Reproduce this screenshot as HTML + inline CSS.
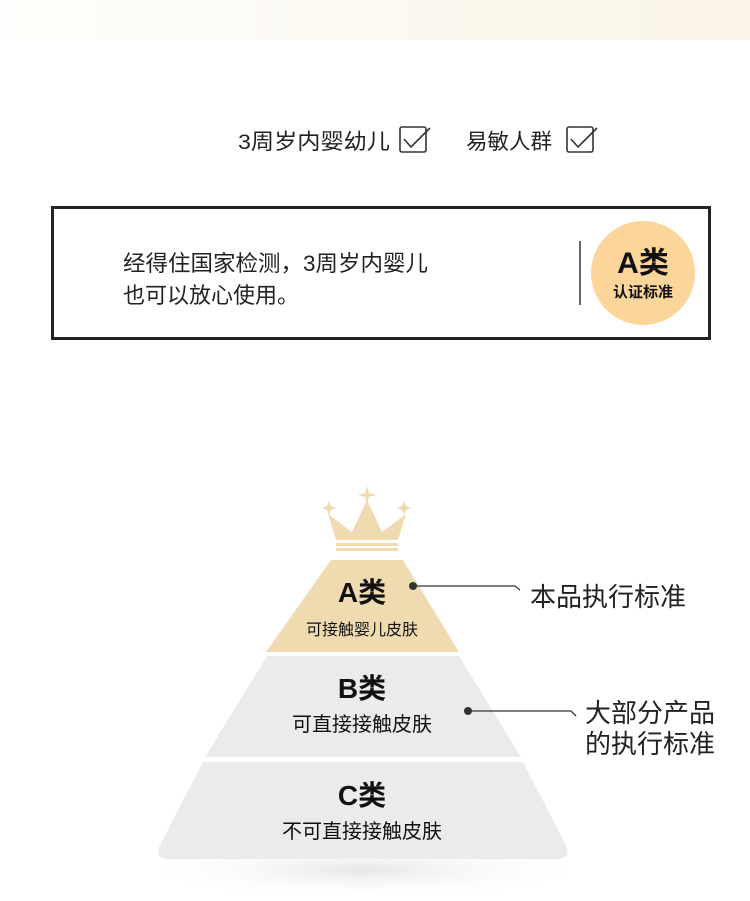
<!DOCTYPE html>
<html><head><meta charset="utf-8"><style>
html,body{margin:0;padding:0;background:#fff}
body{width:750px;height:901px;overflow:hidden;position:relative}
</style></head><body>
<svg width="750" height="901" viewBox="0 0 750 901" xmlns="http://www.w3.org/2000/svg" style="position:absolute;left:0;top:0">
<defs>
<linearGradient id="tb" x1="0" x2="1" y1="0" y2="0"><stop offset="0" stop-color="#fefefc"/><stop offset="0.5" stop-color="#fcf9f1"/><stop offset="1" stop-color="#f9f4e6"/></linearGradient>
<radialGradient id="sh" cx="0.5" cy="0.5" r="0.5"><stop offset="0" stop-color="#e6e6e6"/><stop offset="1" stop-color="#fff" stop-opacity="0"/></radialGradient>
</defs>
<rect x="0" y="0" width="750" height="40" fill="url(#tb)"/>
<g font-family="Liberation Sans, Noto Sans CJK SC, sans-serif" fill="#222">
<text x="238" y="149" font-size="21.5" textLength="152" lengthAdjust="spacingAndGlyphs">3周岁内婴幼儿</text>
<rect x="400" y="127" width="26" height="25" rx="2" fill="none" stroke="#333" stroke-width="1.6"/>
<polyline points="404,139 411,147 430,128" fill="none" stroke="#333" stroke-width="1.6"/>
<text x="466" y="149" font-size="21.5">易敏人群</text>
<rect x="567" y="127" width="26" height="25" rx="2" fill="none" stroke="#333" stroke-width="1.6"/>
<polyline points="571,139 578,147 597,128" fill="none" stroke="#333" stroke-width="1.6"/>
<rect x="52.5" y="207.5" width="657" height="131" fill="#fff" stroke="#222" stroke-width="3"/>
<text x="123" y="271" font-size="22" textLength="305" lengthAdjust="spacingAndGlyphs">经得住国家检测，3周岁内婴儿</text>
<text x="123" y="303" font-size="22">也可以放心使用。</text>
<line x1="580" y1="241" x2="580" y2="305" stroke="#333" stroke-width="1.5"/>
<circle cx="643" cy="273" r="52" fill="#fbd59a"/>
<text x="643" y="273" font-size="30" font-weight="bold" text-anchor="middle" fill="#111">A类</text>
<text x="643" y="297" font-size="15" font-weight="bold" text-anchor="middle" fill="#111">认证标准</text>
</g>
<ellipse cx="363" cy="870" rx="230" ry="30" fill="url(#sh)"/>
<g fill="#f0dbb1">
<path d="M367,486 L369,493 L376,495 L369,497 L367,504 L365,497 L358,495 L365,493Z"/>
<path d="M329,501 L331,506 L336,508 L331,510 L329,515 L327,510 L322,508 L327,506Z"/>
<path d="M404,501 L406,506 L411,508 L406,510 L404,515 L402,510 L397,508 L402,506Z"/>
<path d="M328,514 L352,532 L367,500 L382,532 L406,514 L398,540 L336,540Z"/>
<rect x="336" y="543" width="62" height="3"/>
<rect x="336" y="548" width="62" height="3"/>
<path d="M331,560 L403,560 L459,652 L266,652Z"/>
</g>
<path d="M267,656 L459,656 L521,757 L205,757Z" fill="#ebebeb"/>
<path d="M203,762 L523,762 L566,845 Q572,859 556,859 L170,859 Q154,859 160,845Z" fill="#ebebeb"/>
<g font-family="Liberation Sans, Noto Sans CJK SC, sans-serif" fill="#111" text-anchor="middle">
<text x="362" y="602" font-size="28" font-weight="bold">A类</text>
<text x="362" y="635" font-size="16">可接触婴儿皮肤</text>
<text x="362" y="698" font-size="28" font-weight="bold">B类</text>
<text x="362" y="731" font-size="20">可直接接触皮肤</text>
<text x="362" y="805" font-size="28" font-weight="bold">C类</text>
<text x="362" y="838" font-size="20">不可直接接触皮肤</text>
</g>
<g stroke="#333" stroke-width="1.3" fill="none">
<polyline points="413,586 515,586 520,590"/>
<polyline points="468,711 571,711 576,716"/>
</g>
<circle cx="413" cy="586" r="4" fill="#333"/>
<circle cx="468" cy="711" r="4" fill="#333"/>
<g font-family="Liberation Sans, Noto Sans CJK SC, sans-serif" fill="#222" font-size="26">
<text x="530" y="606">本品执行标准</text>
<text x="585" y="722">大部分产品</text>
<text x="585" y="753">的执行标准</text>
</g>
</svg>
</body></html>
